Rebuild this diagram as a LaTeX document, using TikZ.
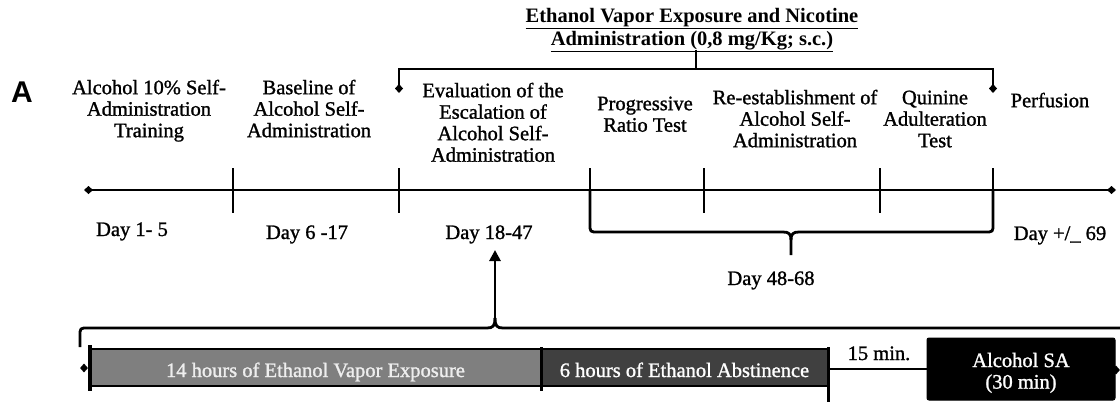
\documentclass[tikz,border=0pt]{standalone}
\usepackage{fontspec}
\setmainfont{Liberation Serif}[UprightFeatures={FakeBold=1.2}]
\newfontfamily\labelsans{Liberation Sans}
\usetikzlibrary{arrows.meta,shapes.geometric}
\definecolor{boxgray}{HTML}{7F7F7F}
\definecolor{boxdark}{HTML}{404040}
\definecolor{txtlight}{HTML}{EEEEEE}
\newcommand\mystrut{\rule{0pt}{16pt}}
\begin{document}
\begin{tikzpicture}[x=1pt,y=-1pt,
  txt/.style={font=\fontsize{20.5}{21.5}\selectfont, inner sep=0pt, align=center},
  col/.style={txt, anchor=north},
  daylbl/.style={txt, anchor=base},
  tl/.style={line width=2.8pt},
  dtip/.tip={Diamond[length=9pt,width=8pt]},
  dia/.style={diamond, fill=black, inner sep=0pt, minimum width=8pt, minimum height=9pt},
  barbox/.style={txt, draw=black, line width=2pt, minimum height=37pt, text height=19pt, text depth=0pt}
]
\useasboundingbox (0,0) rectangle (1120,402);

% panel letter
\node[font=\labelsans\bfseries\fontsize{30}{30}\selectfont, inner sep=0pt] (lettA) at (22,92) {A};

% title
\node[inner sep=0pt, align=center, anchor=north, font=\fontsize{20.5}{23}\selectfont\bfseries] (title) at (692,6)
  {\mystrut\underline{Ethanol Vapor Exposure and Nicotine}\\\underline{Administration (0,8 mg/Kg; s.c.)}};

% phase labels
\node[col] (c1) at (149,78) {\mystrut Alcohol 10\% Self-\\Administration\\Training};
\node[col] (c2) at (309,78) {\mystrut Baseline of\\Alcohol Self-\\Administration};
\node[col] (c3) at (493,81) {\mystrut Evaluation of the\\Escalation of\\Alcohol Self-\\Administration};
\node[col] (c4) at (645,94) {\mystrut Progressive\\Ratio Test};
\node[col] (c5) at (795,88) {\mystrut Re-establishment of\\Alcohol Self-\\Administration};
\node[col] (c6) at (935,88) {\mystrut Quinine\\Adulteration\\Test};
\node[col] (c7) at (1050,91) {\mystrut Perfusion};

% main timeline
\coordinate (ml) at (84,190);
\coordinate (mr) at (1116,190);
\draw[tl, dtip-dtip] (ml) -- (mr);
\foreach \x in {233,399,590,704,880,993}
  \draw[tl] (\x,168) -- (\x,213);

% top bracket
\coordinate (bl) at (399,93);
\coordinate (br) at (993,93);
\coordinate (stem) at (696,50);
\draw[tl, dtip-dtip] (bl) -- (399,69) -- (993,69) -- (br);
\draw[tl] (696,69) -- (stem);

% day labels
\node[daylbl] (d1) at (132,236) {Day 1- 5};
\node[daylbl] (d2) at (307,239) {Day 6 -17};
\node[daylbl] (d3) at (489,239) {Day 18-47};
\node[daylbl] (d5) at (1060,240) {Day +/\_ 69};
\node[daylbl] (d4) at (771,285) {Day 48-68};

% brace day 48-68
\draw[tl, line join=round] (590,190) -- (590,224) .. controls (590,232) .. (598,232) -- (783,232)
  .. controls (789,232) and (791,234) .. (791,240) -- (791,255);
\draw[tl, line join=round] (993,190) -- (993,224) .. controls (993,232) .. (985,232) -- (799,232)
  .. controls (793,232) and (791,234) .. (791,240);

% bottom brace and arrow
\coordinate (bt) at (495,318);
\coordinate (atip) at (495,250);
\draw[tl, line join=round] (80,347) -- (80,336) .. controls (80,328) .. (88,328) -- (487,328)
  .. controls (493,328) and (495,326) .. (bt);
\draw[tl, line join=round] (bt) .. controls (495,326) and (497,328) .. (503,328) -- (1120,328);
\draw[tl, -{Triangle[length=11pt,width=11pt]}] (bt) -- (atip);

% bottom bars
\node[barbox, fill=boxgray, text=txtlight, minimum width=451pt] (expo) at (315.5,367.5) {14 hours of Ethanol Vapor Exposure};
\node[barbox, fill=boxdark, text=white, minimum width=287pt] (abst) at (684.5,367.5) {6 hours of Ethanol Abstinence};
\draw[line width=3.5pt] (90,345) -- (90,391);
\draw[line width=3pt] (541,347) -- (541,391);
\draw[line width=3pt] (828,347) -- (828,402);
\node[dia] (dl) at (84,368) {};

\node[txt, draw=black, fill=black, text=white, rounded corners=2pt, line width=1pt,
  minimum width=188pt, minimum height=62pt] (sa) at (1021,369) {\rule{0pt}{22pt}Alcohol SA\\(30 min)};
\node[dia] (dr) at (1116,370) {};
\draw[line width=2pt] (abst.east |- sa.west) -- (sa.west);
\node[daylbl] (fifteen) at (879,360) {15 min.};
\end{tikzpicture}
\end{document}
